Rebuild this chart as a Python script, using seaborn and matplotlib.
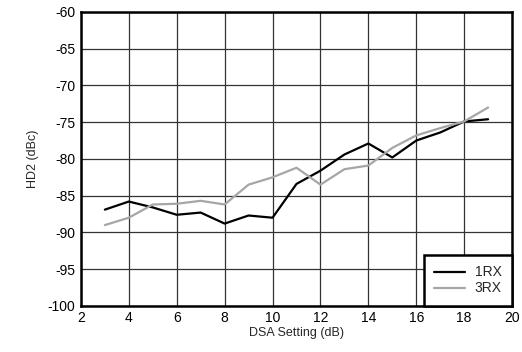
import matplotlib
matplotlib.use("Agg")
import matplotlib.pyplot as plt
import pandas as pd
import seaborn as sns

# DSA setting (dB) and HD2 (dBc)
dsa_setting = [3, 4, 5, 6, 7, 8, 9, 10, 11, 12, 13, 14, 15, 16, 17, 18, 19]
hd2_1rx = [-86.9, -85.8, -86.6, -87.6, -87.3, -88.8, -87.7, -88.0, -83.4,
           -81.6, -79.4, -77.9, -79.8, -77.5, -76.4, -74.9, -74.6]
hd2_3rx = [-89.0, -88.0, -86.2, -86.1, -85.7, -86.2, -83.5, -82.5, -81.2,
           -83.5, -81.4, -80.9, -78.5, -76.8, -75.8, -74.9, -73.0]
series_names = ["1RX", "3RX"]
series_colors = ["#000000", "#a6a6a6"]

df = pd.concat([
    pd.DataFrame({"dsa": dsa_setting, "hd2": hd2_1rx, "series": series_names[0]}),
    pd.DataFrame({"dsa": dsa_setting, "hd2": hd2_3rx, "series": series_names[1]}),
])

sns.set_theme(style="white")
plt.rcParams["font.family"] = ["Liberation Sans", "DejaVu Sans"]
plt.rcParams["axes.unicode_minus"] = False

fig = plt.figure(figsize=(5.22, 3.52), dpi=100)
ax = fig.add_axes([0.155, 0.131, 0.826, 0.835])

sns.lineplot(data=df, x="dsa", y="hd2", hue="series",
             palette=dict(zip(series_names, series_colors)),
             linewidth=1.6, ax=ax)

ax.set_xlim(2, 20)
ax.set_ylim(-100, -60)
ax.set_xticks(range(2, 21, 2))
ax.set_yticks(range(-100, -59, 5))
ax.grid(True, color="#333333", linewidth=0.9)
for s in ax.spines.values():
    s.set_color("black")
    s.set_linewidth(1.8)
ax.tick_params(axis="both", labelsize=10, length=0, pad=4, colors="black")
ax.set_xlabel("DSA Setting (dB)", fontsize=9, labelpad=1)
ax.set_ylabel("HD2 (dBc)", fontsize=9, labelpad=6)

leg = ax.legend(loc="lower right", fontsize=10, frameon=True, fancybox=False,
                borderaxespad=0, handlelength=2.2, borderpad=0.75,
                labelspacing=0.15, handletextpad=0.7)
leg.get_frame().set_edgecolor("black")
leg.get_frame().set_linewidth(1.8)
leg.get_frame().set_alpha(1)

fig.savefig("out.png", dpi=100)
plt.close(fig)
